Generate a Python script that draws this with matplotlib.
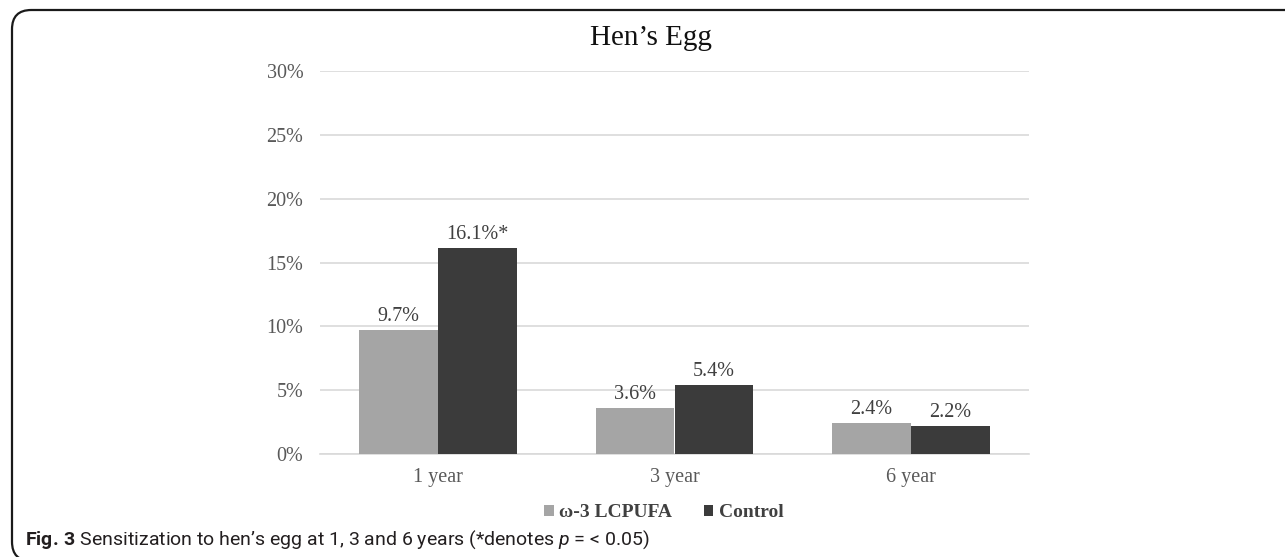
import numpy as np
import matplotlib
matplotlib.use("Agg")
import matplotlib.pyplot as plt
from matplotlib.patches import FancyBboxPatch
from matplotlib.ticker import PercentFormatter

# data
categories = ["1 year", "3 year", "6 year"]
lcpufa = [9.7, 3.6, 2.4]
control = [16.1, 5.4, 2.2]
lcpufa_labels = ["9.7%", "3.6%", "2.4%"]
control_labels = ["16.1%*", "5.4%", "2.2%"]
series_names = ["ω-3 LCPUFA", "Control"]

plt.rcParams["mathtext.fontset"] = "custom"
plt.rcParams["mathtext.rm"] = "Roboto"
plt.rcParams["mathtext.it"] = "Roboto:italic"
plt.rcParams["mathtext.bf"] = "Roboto:bold"

W, H = 1285, 557
fig = plt.figure(figsize=(W / 100, H / 100), dpi=100)
fig.patch.set_facecolor("white")

# plot area in pixels: x 320..1029, y 71..454
ax = fig.add_axes([320 / W, (H - 454) / H, 709 / W, 383 / H])

serif = "Liberation Serif"
x = np.arange(len(categories))
bw = 1 / 3
b1 = ax.bar(x - bw / 2, lcpufa, bw, color="#a5a5a5", label=series_names[0], zorder=3)
b2 = ax.bar(x + bw / 2, control, bw, color="#3b3b3b", label=series_names[1], zorder=3)

for bars, labs in ((b1, lcpufa_labels), (b2, control_labels)):
    for r, lab in zip(bars, labs):
        ax.annotate(lab, (r.get_x() + r.get_width() / 2, r.get_height()),
                    xytext=(0, 3), textcoords="offset points", ha="center", va="bottom",
                    fontsize=14.5, family=serif, color="#404040")

ax.set_xlim(-0.5, 2.5)
ax.set_ylim(0, 30)
ax.set_yticks(np.arange(0, 31, 5))
ax.yaxis.set_major_formatter(PercentFormatter(decimals=0))
ax.set_xticks(x)
ax.set_xticklabels(categories)
ax.grid(axis="y", color="#d9d9d9", lw=1.2, zorder=0)
for s in ["top", "right", "left"]:
    ax.spines[s].set_visible(False)
ax.spines["bottom"].set_color("#d9d9d9")
ax.spines["bottom"].set_linewidth(1.2)
ax.tick_params(length=0, labelsize=14.5, colors="#595959", pad=12)
ax.tick_params(axis="x", pad=10)
for t in ax.get_xticklabels() + ax.get_yticklabels():
    t.set_family(serif)

leg = ax.legend(loc="upper center", bbox_to_anchor=(0.485, -0.085), ncol=2, frameon=False,
                handlelength=0.5, handleheight=0.5, handletextpad=0.3, columnspacing=1.6,
                prop={"family": serif, "weight": "bold", "size": 14})
for t in leg.get_texts():
    t.set_color("#404040")

fig.text(651 / W, 1 - 38 / H, "Hen’s Egg", ha="center", va="center",
         fontsize=21, family=serif, color="#111111")

fig.text(25 / W, 1 - 540 / H,
         r"$\bf{Fig.\,3}$ Sensitization to hen’s egg at 1, 3 and 6 years (*denotes $\it{p}$ = < 0.05)",
         ha="left", va="center", fontsize=14, family="Roboto", color="#231f20")

# rounded frame: only top and left edges fall inside the image
frame = FancyBboxPatch((12 / W, -4 / H), 1400 / W, (H - 10 + 4) / H,
                       boxstyle="round,pad=0,rounding_size=0.015",
                       transform=fig.transFigure, fill=False, ec="#1a1a1a", lw=1.6,
                       mutation_aspect=W / H)
fig.patches.append(frame)

fig.savefig("out.png", dpi=100)
